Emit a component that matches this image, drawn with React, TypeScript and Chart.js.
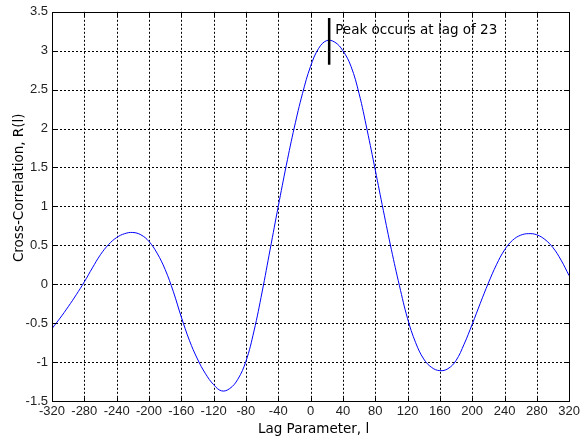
import React, { useEffect, useRef } from "react";
import { Chart, registerables } from "chart.js";

Chart.register(...registerables);

// ---- data ----
const lags = [
  -320, -310, -300, -290, -280, -270, -260, -250, -240, -230, -220, -210, -200,
  -190, -180, -170, -160, -150, -140, -130, -120, -110, -100, -90, -80, -70, -60,
  -50, -40, -30, -20, -10, 0, 10, 20, 30, 40, 50, 60, 70, 80, 90, 100, 110, 120,
  130, 140, 150, 160, 170, 180, 190, 200, 210, 220, 230, 240, 250, 260, 270, 280,
  290, 300, 310, 320,
];
const correlation = [
  -0.57, -0.435, -0.29, -0.135, 0.03, 0.21, 0.38, 0.51, 0.6, 0.65, 0.665, 0.635, 0.55,
  0.4, 0.19, -0.09, -0.42, -0.72, -0.96, -1.15, -1.29, -1.37, -1.34, -1.22, -0.99,
  -0.6, -0.1, 0.45, 1.0, 1.53, 2.02, 2.45, 2.8, 3.03, 3.13, 3.11, 3.0, 2.8, 2.45,
  1.98, 1.47, 0.95, 0.445, -0.02, -0.44, -0.75, -0.96, -1.07, -1.11, -1.085, -0.98,
  -0.77, -0.515, -0.245, 0.015, 0.25, 0.44, 0.565, 0.63, 0.65, 0.635, 0.575, 0.47,
  0.31, 0.11,
];
const xTicks = [-320, -280, -240, -200, -160, -120, -80, -40, 0, 40, 80, 120, 160, 200, 240, 280, 320];
const yTicks = [-1.5, -1, -0.5, 0, 0.5, 1, 1.5, 2, 2.5, 3, 3.5];
const xTitle = "Lag Parameter, l";
const yTitle = "Cross-Correlation, R(l)";
const peakLag = 23;
const peakMarkerLow = 2.82;
const peakMarkerHigh = 3.42;
const peakTextValue = 3.26;
const peakLabel = "Peak occurs at lag of 23";

const TEXT_FONT = '13.5px "DejaVu Sans"';

const framePlugin = {
  id: "matlabFrame",
  beforeDatasetsDraw(chart: any) {
    const { ctx, chartArea: a, scales } = chart;
    const xs = scales.x;
    const ys = scales.y;
    ctx.save();
    ctx.strokeStyle = "#000";
    ctx.lineWidth = 1;
    ctx.setLineDash([2, 2]);
    for (const t of xTicks) {
      const px = Math.round(xs.getPixelForValue(t)) + 0.5;
      if (px <= a.left + 1 || px >= a.right - 1) continue;
      ctx.beginPath();
      ctx.moveTo(px, a.top);
      ctx.lineTo(px, a.bottom);
      ctx.stroke();
    }
    for (const t of yTicks) {
      const py = Math.round(ys.getPixelForValue(t)) + 0.5;
      if (py <= a.top + 1 || py >= a.bottom - 1) continue;
      ctx.beginPath();
      ctx.moveTo(a.left, py);
      ctx.lineTo(a.right, py);
      ctx.stroke();
    }
    ctx.restore();
  },
  afterDatasetsDraw(chart: any) {
    const { ctx, chartArea: a, scales } = chart;
    const xs = scales.x;
    const ys = scales.y;
    ctx.save();
    ctx.setLineDash([]);
    ctx.strokeStyle = "#000";
    ctx.lineWidth = 1;
    const L = Math.round(a.left) + 0.5;
    const R = Math.round(a.right) + 0.5;
    const T = Math.round(a.top) + 0.5;
    const B = Math.round(a.bottom) + 0.5;
    ctx.strokeRect(L, T, R - L, B - T);
    // inside tick marks
    const tl = 4;
    for (const t of xTicks) {
      const px = Math.round(xs.getPixelForValue(t)) + 0.5;
      ctx.beginPath();
      ctx.moveTo(px, B);
      ctx.lineTo(px, B - tl);
      ctx.moveTo(px, T);
      ctx.lineTo(px, T + tl);
      ctx.stroke();
    }
    for (const t of yTicks) {
      const py = Math.round(ys.getPixelForValue(t)) + 0.5;
      ctx.beginPath();
      ctx.moveTo(L, py);
      ctx.lineTo(L + tl, py);
      ctx.moveTo(R, py);
      ctx.lineTo(R - tl, py);
      ctx.stroke();
    }
    // peak marker
    const mx = xs.getPixelForValue(peakLag);
    ctx.lineWidth = 2.5;
    ctx.beginPath();
    ctx.moveTo(mx, ys.getPixelForValue(peakMarkerHigh));
    ctx.lineTo(mx, ys.getPixelForValue(peakMarkerLow));
    ctx.stroke();
    ctx.fillStyle = "#000";
    ctx.font = TEXT_FONT;
    ctx.textAlign = "left";
    ctx.textBaseline = "middle";
    ctx.fillText(peakLabel, mx + 6, ys.getPixelForValue(peakTextValue));
    ctx.restore();
  },
  afterDraw(chart: any) {
    const { ctx, chartArea: a } = chart;
    ctx.save();
    ctx.fillStyle = "#000";
    ctx.font = TEXT_FONT;
    ctx.textAlign = "center";
    ctx.textBaseline = "middle";
    ctx.fillText(xTitle, (a.left + a.right) / 2 + 3, a.bottom + 28);
    ctx.translate(19, a.top + 176);
    ctx.rotate(-Math.PI / 2);
    ctx.fillText(yTitle, 0, 0);
    ctx.restore();
  },
};

export default function App() {
  const canvasRef = useRef<HTMLCanvasElement | null>(null);

  useEffect(() => {
    document.body.style.margin = "0";
    const canvas = canvasRef.current;
    if (!canvas) return;
    const chart = new Chart(canvas, {
      type: "line",
      data: {
        datasets: [
          {
            data: lags.map((l, i) => ({ x: l, y: correlation[i] })),
            borderColor: "#0000ff",
            borderWidth: 1,
            pointRadius: 0,
            tension: 0.4,
            fill: false,
          },
        ],
      },
      options: {
        animation: false,
        responsive: false,
        devicePixelRatio: 1,
        layout: { padding: { top: 9, right: 11, left: 0, bottom: 0 } },
        plugins: {
          legend: { display: false },
          tooltip: { enabled: false },
        },
        scales: {
          x: {
            type: "linear",
            min: -320,
            max: 320,
            afterFit: (s: any) => {
              s.height = 37;
            },
            afterBuildTicks: (s: any) => {
              s.ticks = xTicks.map((v) => ({ value: v }));
            },
            grid: { display: false, drawTicks: false },
            border: { display: false },
            ticks: {
              padding: 3,
              maxRotation: 0,
              autoSkip: false,
              color: "#222",
              font: { family: '"Liberation Sans", Arial, sans-serif', size: 13 },
              callback: (v: any) => String(v),
            },
          },
          y: {
            type: "linear",
            min: -1.5,
            max: 3.5,
            afterFit: (s: any) => {
              s.width = 52;
            },
            afterBuildTicks: (s: any) => {
              s.ticks = yTicks.map((v) => ({ value: v }));
            },
            grid: { display: false, drawTicks: false },
            border: { display: false },
            ticks: {
              padding: 4,
              autoSkip: false,
              color: "#222",
              font: { family: '"Liberation Sans", Arial, sans-serif', size: 13 },
              callback: (v: any) => String(v),
            },
          },
        },
      },
      plugins: [framePlugin],
    });
    return () => chart.destroy();
  }, []);

  return (
    <div style={{ width: 583, height: 438, background: "#fff" }}>
      <canvas ref={canvasRef} width={583} height={438} style={{ display: "block" }} />
    </div>
  );
}
